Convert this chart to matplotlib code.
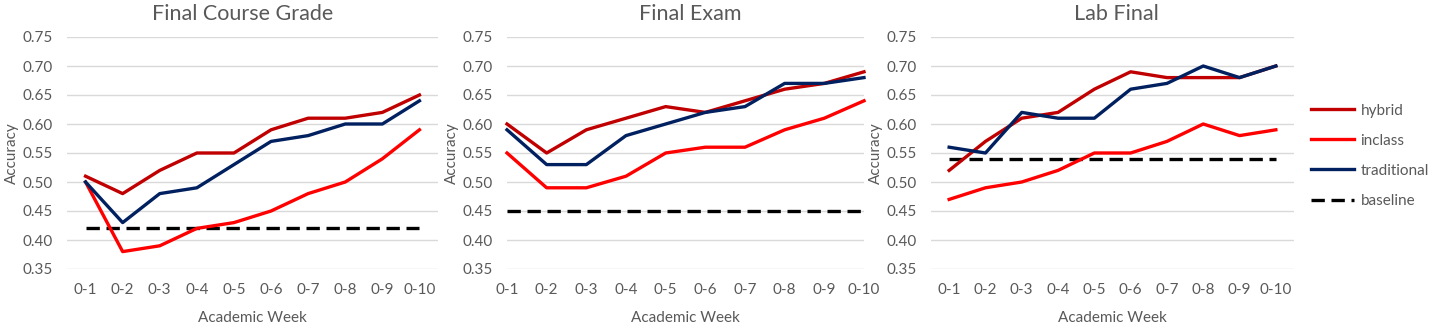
import matplotlib
matplotlib.use("Agg")
from matplotlib import pyplot as plt
from matplotlib.lines import Line2D

plt.rcParams["font.family"] = ["Lato", "DejaVu Sans"]

weeks = ["0-1", "0-2", "0-3", "0-4", "0-5", "0-6", "0-7", "0-8", "0-9", "0-10"]
titles = ["Final Course Grade", "Final Exam", "Lab Final"]

# Final Course Grade
fcg_hybrid = [0.51, 0.48, 0.52, 0.55, 0.55, 0.59, 0.61, 0.61, 0.62, 0.65]
fcg_inclass = [0.50, 0.38, 0.39, 0.42, 0.43, 0.45, 0.48, 0.50, 0.54, 0.59]
fcg_traditional = [0.50, 0.43, 0.48, 0.49, 0.53, 0.57, 0.58, 0.60, 0.60, 0.64]
fcg_baseline = 0.42

# Final Exam
fe_hybrid = [0.60, 0.55, 0.59, 0.61, 0.63, 0.62, 0.64, 0.66, 0.67, 0.69]
fe_inclass = [0.55, 0.49, 0.49, 0.51, 0.55, 0.56, 0.56, 0.59, 0.61, 0.64]
fe_traditional = [0.59, 0.53, 0.53, 0.58, 0.60, 0.62, 0.63, 0.67, 0.67, 0.68]
fe_baseline = 0.45

# Lab Final
lab_hybrid = [0.52, 0.57, 0.61, 0.62, 0.66, 0.69, 0.68, 0.68, 0.68, 0.70]
lab_inclass = [0.47, 0.49, 0.50, 0.52, 0.55, 0.55, 0.57, 0.60, 0.58, 0.59]
lab_traditional = [0.56, 0.55, 0.62, 0.61, 0.61, 0.66, 0.67, 0.70, 0.68, 0.70]
lab_baseline = 0.54

yticks = [0.35, 0.40, 0.45, 0.50, 0.55, 0.60, 0.65, 0.70, 0.75]

COL_HYBRID = "#C00000"
COL_INCLASS = "#FF0000"
COL_TRAD = "#002060"
TEXT = "#595959"

panels = [
    (fcg_hybrid, fcg_inclass, fcg_traditional, fcg_baseline),
    (fe_hybrid, fe_inclass, fe_traditional, fe_baseline),
    (lab_hybrid, lab_inclass, lab_traditional, lab_baseline),
]

W, H = 1435, 331
fig = plt.figure(figsize=(W / 100, H / 100), dpi=100)

# axes boxes in pixels: (left, right), top=37, bottom=269
boxes = [(67, 438), (507, 864), (931, 1294)]
xlims = [(-0.5, 9.5), (0, 9), (-0.5, 9.5)]
title_x = [0.474, 0.513, 0.512]
top, bottom = 37, 269

lw = 2.4
for i, (hyb, inc, trad, base) in enumerate(panels):
    l, r = boxes[i]
    ax = fig.add_axes([l / W, (H - bottom) / H, (r - l) / W, (bottom - top) / H])
    x = list(range(len(weeks)))
    ax.plot(x, hyb, color=COL_HYBRID, lw=lw, clip_on=False, zorder=3)
    ax.plot(x, inc, color=COL_INCLASS, lw=lw, clip_on=False, zorder=3)
    ax.plot(x, trad, color=COL_TRAD, lw=lw, clip_on=False, zorder=4)
    ax.plot(x, [base] * len(x), color="black", lw=lw, ls=(0, (4, 2)),
            clip_on=False, zorder=2)

    ax.set_xlim(*xlims[i])
    ax.set_ylim(0.35, 0.75)
    ax.set_yticks(yticks)
    ax.set_yticklabels([f"{v:.2f}" for v in yticks])
    ax.set_xticks(x)
    ax.set_xticklabels(weeks)
    ax.grid(axis="y", color="#d9d9d9", lw=1)
    ax.set_axisbelow(True)
    for s in ax.spines.values():
        s.set_visible(False)
    ax.tick_params(axis="y", length=0, pad=10, labelsize=11, labelcolor=TEXT)
    ax.tick_params(axis="x", length=0, pad=10, labelsize=11, labelcolor=TEXT)
    ax.set_xlabel("Academic Week", fontsize=11, color=TEXT, labelpad=10)
    ax.set_ylabel("Accuracy", fontsize=11, color=TEXT, labelpad=3)
    ax.set_title(titles[i], fontsize=15.5, color=TEXT, x=title_x[i], pad=12)

handles = [
    Line2D([], [], color=COL_HYBRID, lw=lw),
    Line2D([], [], color=COL_INCLASS, lw=lw),
    Line2D([], [], color=COL_TRAD, lw=lw),
    Line2D([], [], color="black", lw=lw, ls=(0, (4, 2))),
]
fig.legend(handles, ["hybrid", "inclass", "traditional", "baseline"],
           loc="upper left", bbox_to_anchor=(1297 / W, 1 - 90 / H),
           frameon=False, fontsize=11, handlelength=2.8, labelspacing=1.05,
           handletextpad=0.45, labelcolor=TEXT)

fig.savefig("out.png", dpi=100)
